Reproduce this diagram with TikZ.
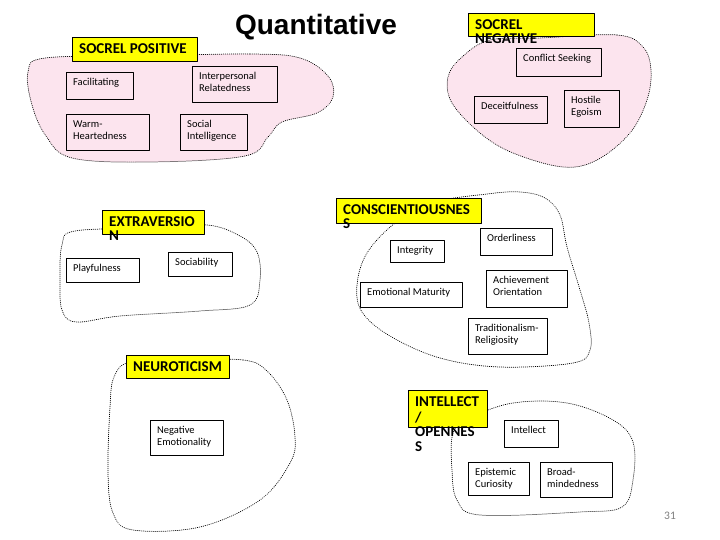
\documentclass[tikz,border=0pt]{standalone}
\usepackage{fontspec}
\setmainfont{Carlito}
\newfontfamily\titlefont{Liberation Sans}
\definecolor{blobpink}{RGB}{252,228,238}
\definecolor{headyellow}{RGB}{255,255,0}

% facet box: name, x, y (top left), width, height, text
\newcommand{\facet}[6]{%
  \node[facetbox,minimum width=#4pt,minimum height=#5pt] (#1) at (#2,#3) {};
  \node[facettext] (#1t) at (#1.north west) {\strut #6};}
% domain label: same arguments
\newcommand{\domain}[6]{%
  \node[headbox,minimum width=#4pt,minimum height=#5pt] (#1) at (#2,#3) {};
  \node[headtext] (#1t) at (#1.north west) {\strut #6};}

\begin{document}
\begin{tikzpicture}[x=1pt,y=-1pt,line cap=round,line join=round,
  blob/.style={draw,line width=0.75pt,dash pattern=on 0.5pt off 1.5pt},
  facetbox/.style={draw,line width=0.7pt,anchor=north west,inner sep=0pt},
  facettext/.style={anchor=north west,align=left,inner xsep=7pt,inner ysep=4.5pt,
    font=\fontsize{10.5}{12.5}\selectfont},
  headbox/.style={draw,line width=0.7pt,fill=headyellow,anchor=north west,inner sep=0pt},
  headtext/.style={anchor=north west,align=left,inner xsep=7pt,inner ysep=6pt,
    font=\bfseries\fontsize{15}{14.5}\selectfont}]
  \useasboundingbox (0,0) rectangle (720,540);
  % The regions.
  \draw[blob,fill=blobpink] plot[smooth cycle,tension=0.6] coordinates {
    (140,56) (250,54) (300,58) (328,76) (333,97) (317,113) (282,122) (268,137)
    (245,156) (150,162) (72,158) (46,136) (32,105) (28,72) (45,58)};
  \draw[blob,fill=blobpink] plot[smooth cycle,tension=0.6] coordinates {
    (540,38) (617,35) (643,47) (651,70) (647,100) (630,133) (597,160) (563,167)
    (513,153) (480,133) (452,103) (448,77) (462,57) (490,40)};
  \draw[blob] plot[smooth cycle,tension=0.6] coordinates {
    (150,228) (207,225) (240,236) (257,252) (260,280) (250,305) (200,311)
    (120,316) (76,322) (62,310) (60,280) (62,245) (75,231)};
  \draw[blob] plot[smooth cycle,tension=0.6] coordinates {
    (430,203) (487,194) (520,192) (545,198) (560,215) (567,247) (580,290)
    (589,323) (590,350) (573,363) (500,367) (440,358) (390,336) (362,312)
    (357,285) (367,253) (395,223)};
  \draw[blob] plot[smooth cycle,tension=0.6] coordinates {
    (180,360) (243,360) (267,371) (287,400) (295,437) (290,463) (260,500)
    (200,527) (133,530) (113,513) (108,473) (110,407) (114,377) (130,362)};
  \draw[blob] plot[smooth cycle,tension=0.6] coordinates {
    (470,418) (513,403) (567,403) (613,420) (633,442) (633,480) (622,507)
    (580,512) (480,515) (457,500) (452,470) (453,433)};
  % Title and page number.
  \node[font=\titlefont\bfseries\fontsize{28}{30}\selectfont] (title) at (316,27) {Quantitative};
  \node[text=gray,font=\fontsize{11.5}{13}\selectfont] (page) at (670,516) {31};
  % Domain labels.
  \domain{pos}{72}{37}{125}{24}{SOCREL POSITIVE}
  \domain{neg}{468}{13}{126}{23}{SOCREL\\NEGATIVE}
  \domain{ext}{102}{210}{102}{24}{EXTRAVERSIO\\N}
  \domain{con}{336}{198}{145}{25}{CONSCIENTIOUSNES\\S}
  \domain{neu}{126}{355}{103}{23}{NEUROTICISM}
  \domain{int}{408}{390}{79}{37}{INTELLECT\\/\\OPENNES\\S}
  % Facets.
  \facet{fac}{66}{72}{67}{27}{Facilitating}
  \facet{ipr}{192}{66}{85}{36}{Interpersonal\\Relatedness}
  \facet{wrm}{66}{114}{83}{36}{Warm-\\Heartedness}
  \facet{sci}{180}{114}{67}{36}{Social\\Intelligence}
  \facet{cfs}{516}{48}{85}{28}{Conflict Seeking}
  \facet{dec}{474}{96}{73}{27}{Deceitfulness}
  \facet{hos}{564}{90}{55}{37}{Hostile\\Egoism}
  \facet{ply}{66}{258}{73}{24}{Playfulness}
  \facet{sob}{168}{252}{64}{24}{Sociability}
  \facet{itg}{390}{240}{54}{22}{Integrity}
  \facet{ord}{480}{228}{72}{27}{Orderliness}
  \facet{emo}{360}{282}{102}{25}{Emotional Maturity}
  \facet{ach}{486}{270}{81}{37}{Achievement\\Orientation}
  \facet{trd}{468}{318}{79}{36}{Traditionalism-\\Religiosity}
  \facet{nem}{150}{420}{73}{35}{Negative\\Emotionality}
  \facet{itl}{504}{420}{54}{27}{Intellect}
  \facet{epi}{468}{462}{61}{33}{Epistemic\\Curiosity}
  \facet{brd}{540}{462}{72}{35}{Broad-\\mindedness}
\end{tikzpicture}
\end{document}
